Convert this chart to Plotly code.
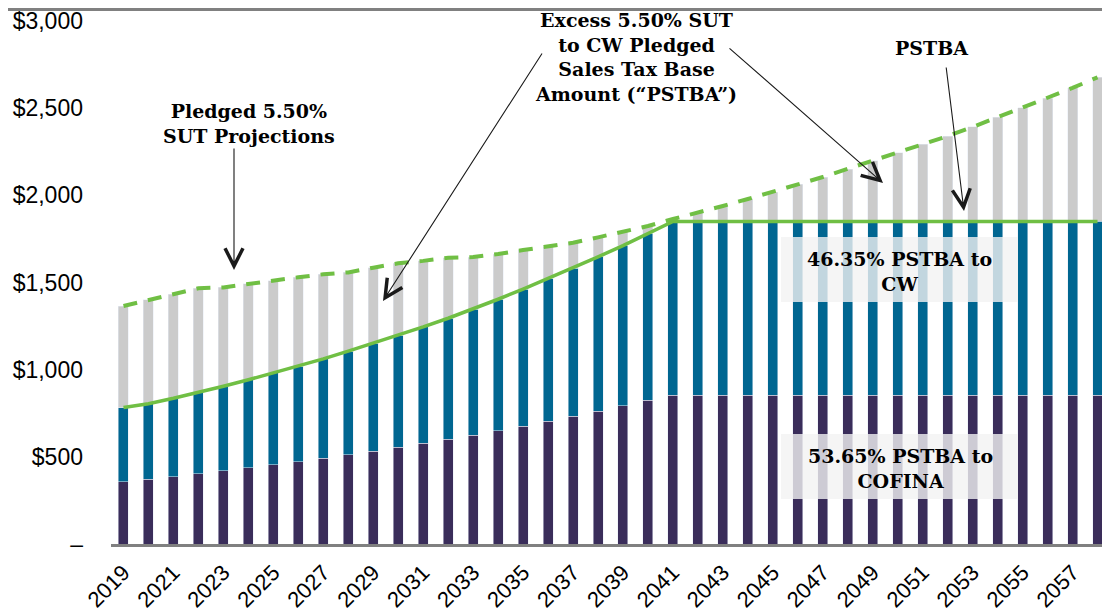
import plotly.graph_objects as go

years = list(range(2019, 2059))

# Pledged 5.50% SUT projections (top of grey bars, dashed line), $M
sut_total = [1365, 1400, 1434, 1467, 1472, 1493, 1510, 1530, 1547, 1558,
             1585, 1610, 1624, 1642, 1646, 1663, 1686, 1705, 1728, 1759,
             1791, 1824, 1864, 1900, 1939, 1979, 2019, 2063, 2105, 2151,
             2197, 2243, 2294, 2340, 2392, 2447, 2501, 2558, 2616, 2677]

# PSTBA (top of teal bars, solid line), $M
pstba = [783, 805, 836, 869, 905, 942, 981, 1020, 1062, 1106,
         1151, 1197, 1245, 1295, 1348, 1404, 1462, 1522, 1582, 1647,
         1712, 1782, 1850, 1850, 1850, 1850, 1850, 1850, 1850, 1850,
         1850, 1850, 1850, 1850, 1850, 1850, 1850, 1850, 1850, 1850]

# bottom (dark) segment, $M
cofina = [357, 371, 386, 403, 420, 438, 455, 472, 491, 512,
          532, 555, 578, 600, 623, 650, 675, 704, 732, 761,
          793, 824, 853, 853, 853, 853, 853, 853, 853, 853,
          853, 853, 853, 853, 853, 853, 853, 853, 853, 853]

y_ticks = [0, 500, 1000, 1500, 2000, 2500, 3000]
y_labels = ["–", "$500", "$1,000", "$1,500", "$2,000", "$2,500", "$3,000"]

cw = [p - c for p, c in zip(pstba, cofina)]
excess = [s - p for s, p in zip(sut_total, pstba)]

GREEN = "#70BF44"
SERIF = "DejaVu Serif"

# the page body adds an 8px margin, so the figure is shrunk by that much
OFF = 8
W, H = 1110 - OFF, 615 - OFF
# plot area in page pixels: x 111..1110, y 21..544
L, R, T, B = 111, 1110, 21, 544


def px_x(px):
    return 2018.5 + (px - L) / (R - L) * 40


def px_y(py):
    return (B - py) / (B - T) * 3000


def paper_x(px):
    return (px - L) / (R - L)


def paper_y(py):
    return (B - py) / (B - T)


fig = go.Figure()
fig.add_trace(go.Bar(x=years, y=cofina, marker_color="#3A2D5A", width=0.4))
fig.add_trace(go.Bar(x=years, y=cw, marker_color="#006691", width=0.4))
fig.add_trace(go.Bar(x=years, y=excess, marker_color="#CBCBCB", width=0.4))

fig.add_trace(go.Scatter(x=years, y=pstba, mode="lines",
                         line=dict(color=GREEN, width=3.5)))
fig.add_trace(go.Scatter(x=years, y=sut_total, mode="lines",
                         line=dict(color=GREEN, width=4, dash="14px,11px")))

# translucent label boxes
for top, bottom in [(237, 302), (434, 499)]:
    fig.add_shape(type="rect", xref="paper", yref="paper",
                  x0=paper_x(781), x1=paper_x(1018),
                  y0=paper_y(bottom), y1=paper_y(top),
                  fillcolor="rgba(242,242,242,0.8)", line_width=0, layer="above")

# top border
fig.add_shape(type="line", xref="paper", yref="paper",
              x0=paper_x(OFF), x1=1, y0=paper_y(OFF + 1.5), y1=paper_y(OFF + 1.5),
              line=dict(color="#808080", width=3))

labels = [
    ("<b>Pledged 5.50%<br>SUT Projections</b>", 249, 123),
    ("<b>Excess 5.50% SUT<br>to CW Pledged<br>Sales Tax Base<br>Amount (“PSTBA”)</b>", 636, 57),
    ("<b>PSTBA</b>", 931, 48),
    ("<b>46.35% PSTBA to<br>CW</b>", 899, 271),
    ("<b>53.65% PSTBA to<br>COFINA</b>", 900, 468),
]
for text, cx, cy in labels:
    fig.add_annotation(text=text, x=paper_x(cx), y=paper_y(cy),
                       xref="paper", yref="paper", showarrow=False,
                       xanchor="center", yanchor="middle",
                       font=dict(family=SERIF, size=19, color="black"),
                       align="center")

arrows = [
    ((234, 147), (234, 270)),
    ((543, 52), (383, 301)),
    ((728, 47), (883, 183)),
    ((946, 66), (964, 211)),
]
for (tx, ty), (hx, hy) in arrows:
    fig.add_annotation(text="", x=px_x(hx), y=px_y(hy),
                       ax=px_x(tx), ay=px_y(ty), xref="x", yref="y",
                       axref="x", ayref="y", showarrow=True,
                       arrowhead=5, arrowsize=3.2, arrowwidth=1.1,
                       arrowcolor="#1A1A1A")

fig.update_xaxes(range=[2018.5, 2058.5], tickmode="linear", tick0=2019, dtick=2,
                 tickangle=-45, showgrid=False, zeroline=False, automargin=False,
                 showline=True, linecolor="#808080", linewidth=3,
                 ticklabelstandoff=4,
                 tickfont=dict(family="Liberation Sans", size=22, color="black"))
fig.update_yaxes(range=[0, 3000], tickvals=y_ticks, ticktext=y_labels,
                 showgrid=False, zeroline=False, showline=False, automargin=False,
                 ticklabelstandoff=27,
                 tickfont=dict(family="Liberation Sans", size=23, color="black"))

fig.update_layout(
    width=W, height=H,
    barmode="stack",
    showlegend=False,
    plot_bgcolor="white",
    paper_bgcolor="white",
    margin=dict(l=L - OFF, r=0, t=T - OFF, b=615 - B),
)

fig.write_html("out.html")
